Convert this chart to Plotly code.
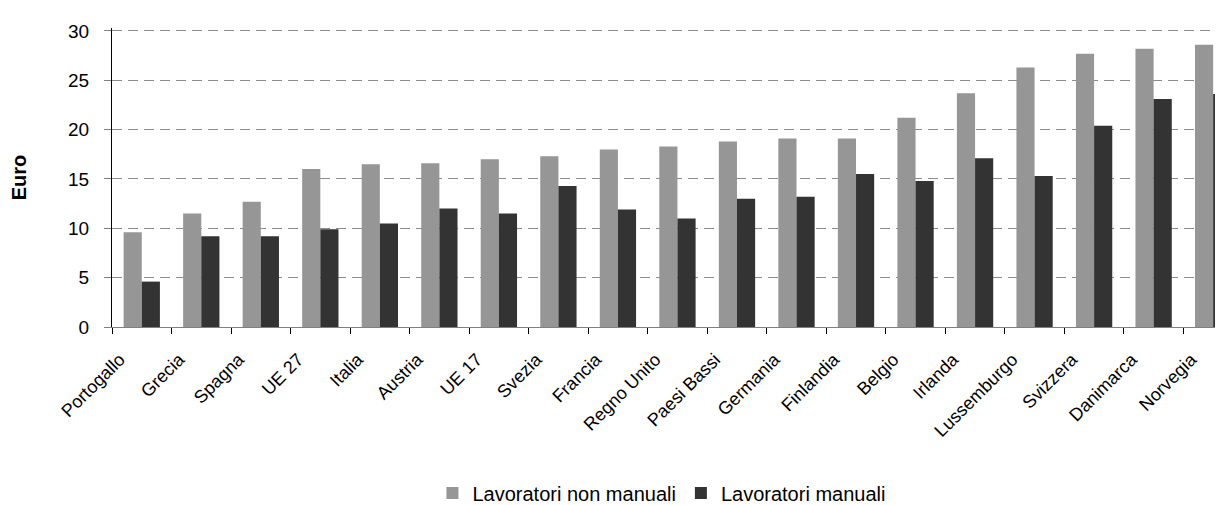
import plotly.graph_objects as go

categories = ["Portogallo", "Grecia", "Spagna", "UE 27", "Italia", "Austria", "UE 17",
              "Svezia", "Francia", "Regno Unito", "Paesi Bassi", "Germania", "Finlandia",
              "Belgio", "Irlanda", "Lussemburgo", "Svizzera", "Danimarca", "Norvegia"]
non_manuali = [9.6, 11.5, 12.7, 16.0, 16.5, 16.6, 17.0, 17.3, 18.0, 18.3, 18.8, 19.1, 19.1,
               21.2, 23.7, 26.3, 27.7, 28.2, 28.6]
manuali = [4.6, 9.2, 9.2, 9.9, 10.5, 12.0, 11.5, 14.3, 11.9, 11.0, 13.0, 13.2, 15.5,
           14.8, 17.1, 15.3, 20.4, 23.1, 23.6]
y_ticks = [0, 5, 10, 15, 20, 25, 30]

FONT = "Arial, Liberation Sans, sans-serif"

fig = go.Figure()
fig.add_trace(go.Bar(x=categories, y=non_manuali, name="Lavoratori non manuali",
                     marker=dict(color="#969696", line=dict(width=0))))
fig.add_trace(go.Bar(x=categories, y=manuali, name="Lavoratori manuali",
                     marker=dict(color="#333333", line=dict(width=0))))

fig.update_layout(
    width=1223, height=505,
    margin=dict(l=104, r=0, t=20, b=180),
    paper_bgcolor="white", plot_bgcolor="white",
    barmode="group", bargap=0.39, bargroupgap=0,
    font=dict(family=FONT, size=18, color="black"),
    showlegend=True,
    legend=dict(orientation="h", x=0.491, xanchor="center", y=-0.555, yanchor="middle",
                font=dict(size=20, family=FONT, color="black"),
                itemwidth=30, tracegroupgap=0, bgcolor="rgba(0,0,0,0)"),
    xaxis=dict(
        type="category", range=[-0.5, 18.3],
        showline=True, linecolor="#808080", linewidth=1,
        ticks="outside", tickson="boundaries", ticklen=6, tickcolor="#000000",
        tickangle=-45, tickfont=dict(size=18, family=FONT, color="black"),
        ticklabelstandoff=14, ticklabelshift=-22,
        showgrid=False, zeroline=False,
    ),
    yaxis=dict(
        range=[0, 30.3], tickvals=y_ticks,
        showline=True, linecolor="#000000", linewidth=1,
        ticks="outside", ticklen=7, tickcolor="#808080",
        tickfont=dict(size=19, family=FONT, color="black"),
        ticklabelstandoff=11,
        showgrid=True, gridcolor="#8c8c8c", gridwidth=1, griddash="10px,6px",
        zeroline=False,
        title=dict(text="<b>Euro</b>", font=dict(size=20, family=FONT, color="black"),
                   standoff=43),
    ),
)

fig.write_html("out.html")
